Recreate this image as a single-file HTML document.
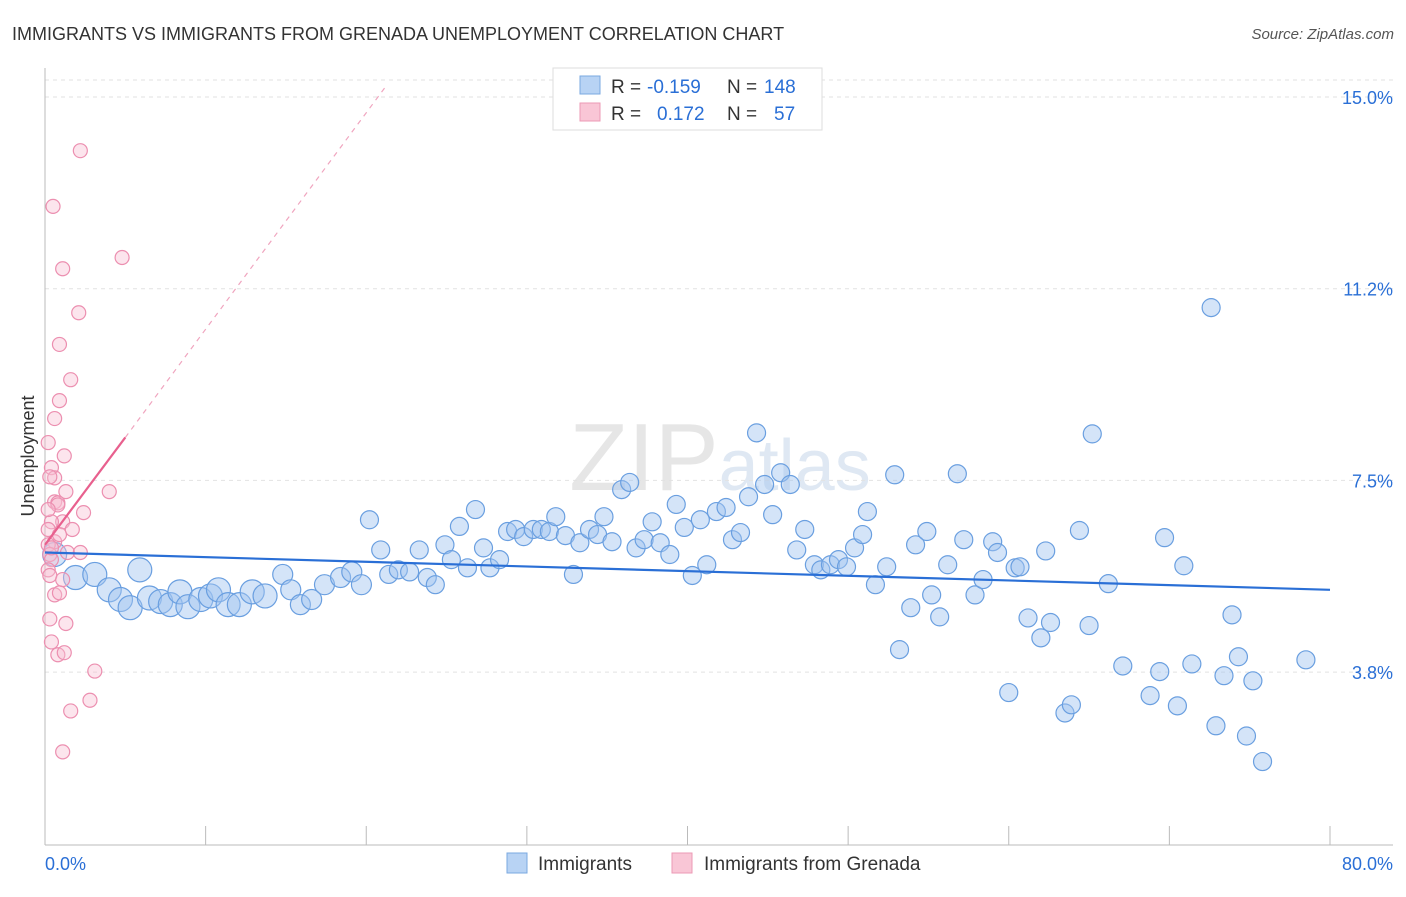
<!DOCTYPE html>
<html><head><meta charset="utf-8"><style>
body{margin:0;background:#fff;font-family:"Liberation Sans",sans-serif}
svg text{font-family:"Liberation Sans",sans-serif}
</style></head><body>
<svg id="c" width="1406" height="892" viewBox="0 0 1406 892">
<text x="12" y="40" font-size="18" fill="#333">IMMIGRANTS VS IMMIGRANTS FROM GRENADA UNEMPLOYMENT CORRELATION CHART</text>
<text x="1394" y="39" font-size="15" fill="#555" font-style="italic" text-anchor="end">Source: ZipAtlas.com</text>
<text x="720" y="490" font-size="96" fill="#e6e6e6" text-anchor="middle" font-family="Liberation Serif">ZIP<tspan fill="#dfe8f3" font-family="Liberation Sans" font-size="72">atlas</tspan></text>
<g id="grid"></g><g id="axes"></g><g id="pts"></g><g id="trend"></g>
<text x="34" y="456" font-size="18" fill="#333" text-anchor="middle" transform="rotate(-90 34 456)">Unemployment</text>
<g>
<rect x="553" y="68" width="269" height="62" fill="#fff" stroke="#ddd"/>
<rect x="580" y="76" width="20" height="18" fill="#b8d3f4" stroke="#7aa8e0"/>
<rect x="580" y="103" width="20" height="18" fill="#f9c6d6" stroke="#ec9ab5"/>
<text y="93" font-size="19" fill="#333"><tspan x="611">R =</tspan><tspan x="647" fill="#2a6fd6">-0.159</tspan><tspan x="727">N =</tspan><tspan x="764" fill="#2a6fd6">148</tspan></text>
<text y="120" font-size="19" fill="#333"><tspan x="611">R =</tspan><tspan x="657" fill="#2a6fd6">0.172</tspan><tspan x="727">N =</tspan><tspan x="774" fill="#2a6fd6">57</tspan></text>
</g>
<g>
<rect x="507" y="853" width="20" height="20" fill="#b8d3f4" stroke="#7aa8e0"/>
<text x="538" y="870" font-size="19" fill="#333">Immigrants</text>
<rect x="672" y="853" width="20" height="20" fill="#f9c6d6" stroke="#ec9ab5"/>
<text x="704" y="870" font-size="19" fill="#333">Immigrants from Grenada</text>
</g>
</svg>
<script>
const yTicks=[3.75,7.5,11.25,15];
const yTickLabels=["3.8%","7.5%","11.2%","15.0%"];
const xTicks=[0,10,20,30,40,50,60,70,80];
const xEndLabels=["0.0%","80.0%"];
const blueX=[0.6,1.9,3.1,4.0,4.7,5.3,5.9,6.5,7.2,7.8,8.4,8.9,9.7,10.3,10.8,11.4,12.1,12.9,13.7,14.8,15.3,15.9,16.6,17.4,18.4,19.1,19.7,20.2,20.9,21.4,22.0,22.7,23.3,23.8,24.3,24.9,25.3,25.8,26.3,26.8,27.3,27.7,28.3,28.8,29.3,29.8,30.4,30.9,31.4,31.8,32.4,32.9,33.3,33.9,34.4,34.8,35.3,35.9,36.4,36.8,37.3,37.8,38.3,38.9,39.3,39.8,40.3,40.8,41.2,41.8,42.4,42.8,43.3,43.8,44.3,44.8,45.3,45.8,46.4,46.8,47.3,47.9,48.3,48.9,49.4,49.9,50.4,50.9,51.2,51.7,52.4,52.9,53.2,53.9,54.2,54.9,55.2,55.7,56.2,56.8,57.2,57.9,58.4,59.0,59.3,60.0,60.4,60.7,61.2,62.0,62.3,62.6,63.5,63.9,64.4,65.0,65.2,66.2,67.1,68.8,69.4,69.7,70.5,70.9,71.4,72.6,72.9,73.4,73.9,74.3,74.8,75.2,75.8,78.5];
const blueY=[6.05,5.6,5.66,5.36,5.17,5.01,5.75,5.2,5.13,5.07,5.32,5.03,5.17,5.24,5.36,5.07,5.07,5.32,5.24,5.66,5.36,5.07,5.17,5.46,5.6,5.71,5.46,6.73,6.14,5.66,5.75,5.71,6.14,5.6,5.46,6.24,5.95,6.6,5.79,6.93,6.18,5.79,5.95,6.5,6.54,6.4,6.54,6.54,6.5,6.79,6.42,5.66,6.28,6.54,6.44,6.79,6.3,7.32,7.46,6.18,6.34,6.69,6.28,6.05,7.03,6.58,5.64,6.73,5.85,6.89,6.97,6.34,6.48,7.18,8.43,7.42,6.83,7.65,7.42,6.14,6.54,5.85,5.75,5.85,5.95,5.81,6.18,6.44,6.89,5.46,5.81,7.61,4.19,5.01,6.24,6.5,5.26,4.83,5.85,7.63,6.34,5.26,5.56,6.3,6.09,3.35,5.79,5.81,4.81,4.42,6.12,4.72,2.95,3.11,6.52,4.66,8.41,5.48,3.87,3.29,3.76,6.38,3.09,5.83,3.91,10.88,2.7,3.68,4.87,4.05,2.5,3.58,2.0,3.99];
const pinkX=[2.2,0.5,1.1,4.8,2.1,0.9,1.6,0.9,0.6,0.2,1.2,0.4,0.6,0.3,4.0,1.3,0.6,0.8,2.4,1.1,0.4,0.2,0.6,0.2,1.4,2.2,0.3,0.4,0.2,0.3,1.1,0.6,0.9,0.3,1.3,0.4,0.8,1.2,3.1,2.8,1.6,1.1,0.8,0.2,0.9,0.4,1.7];
const pinkY=[13.95,12.86,11.64,11.86,10.78,10.16,9.47,9.06,8.71,8.24,7.98,7.75,7.55,7.57,7.28,7.28,7.08,7.06,6.87,6.69,6.69,6.54,6.3,6.24,6.09,6.09,6.05,5.95,5.75,5.64,5.56,5.26,5.3,4.79,4.7,4.34,4.09,4.13,3.77,3.2,2.99,2.19,7.02,6.93,6.44,6.18,6.54];
const blueTrend=[[0,6.09],[80,5.36]];
const pinkTrendSolid=[[0,6.24],[5,8.34]];
const pinkTrendDash=[[5,8.34],[21.2,15.2]];
const X=v=>45+v*16.0625, Y=v=>863.8-v*51.12;
const NS="http://www.w3.org/2000/svg";
function mk(tag,attrs,parent){const e=document.createElementNS(NS,tag);for(const k in attrs)e.setAttribute(k,attrs[k]);parent.appendChild(e);return e;}
const grid=document.getElementById('grid'),axes=document.getElementById('axes'),pts=document.getElementById('pts'),tr=document.getElementById('trend');
const topLine=mk('line',{x1:45,x2:1393,y1:80,y2:80,stroke:'#e2e2e2','stroke-dasharray':'4 4'},grid);


yTicks.forEach((t,i)=>{
 const l=mk('line',{x1:45,x2:1393,y1:Y(t),y2:Y(t),stroke:'#e2e2e2','stroke-dasharray':'4 4'},grid);
 
 
 const tx=mk('text',{x:1393,y:Y(t)+7,'font-size':18,fill:'#2a6fd6','text-anchor':'end'},axes);tx.textContent=yTickLabels[i];
 
 
});
const ya=mk('line',{x1:45,x2:45,y1:68,y2:845,stroke:'#bbb'},axes);


const xa=mk('line',{x1:45,x2:1393,y1:845,y2:845,stroke:'#bbb'},axes);


xTicks.forEach(t=>{const l=mk('line',{x1:X(t),x2:X(t),y1:826,y2:845,stroke:'#bbb'},axes);
 
 });
const xl0=mk('text',{x:45,y:870,'font-size':18,fill:'#2a6fd6'},axes);xl0.textContent=xEndLabels[0];


const xl1=mk('text',{x:1393,y:870,'font-size':18,fill:'#2a6fd6','text-anchor':'end'},axes);xl1.textContent=xEndLabels[1];


blueX.forEach((v,i)=>{const r=i<19?12:(i<27?10:9);
 const c=mk('circle',{cx:X(v),cy:Y(blueY[i]),r:r,fill:'rgba(160,196,240,0.45)',stroke:'#6a9fe0','stroke-width':1.2},pts);
 
 });
pinkX.forEach((v,i)=>{
 const c=mk('circle',{cx:X(v),cy:Y(pinkY[i]),r:7,fill:'rgba(248,190,210,0.4)',stroke:'#ec8fb0','stroke-width':1.2},pts);
 
 });
const bl=mk('line',{x1:X(blueTrend[0][0]),y1:Y(blueTrend[0][1]),x2:X(blueTrend[1][0]),y2:Y(blueTrend[1][1]),stroke:'#2a6fd6','stroke-width':2.2},tr);


const ps=mk('line',{x1:X(pinkTrendSolid[0][0]),y1:Y(pinkTrendSolid[0][1]),x2:X(pinkTrendSolid[1][0]),y2:Y(pinkTrendSolid[1][1]),stroke:'#e8608e','stroke-width':2.2},tr);


const pd=mk('line',{x1:X(pinkTrendDash[0][0]),y1:Y(pinkTrendDash[0][1]),x2:X(pinkTrendDash[1][0]),y2:Y(pinkTrendDash[1][1]),stroke:'#f0a5bf','stroke-width':1.2,'stroke-dasharray':'5 5'},tr);


</script>
</body></html>
